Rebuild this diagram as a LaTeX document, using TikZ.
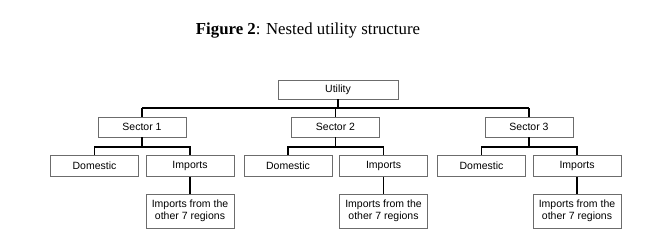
\documentclass[tikz,border=0pt]{standalone}
\usepackage{fontspec}
\setmainfont{Liberation Serif}
\newfontfamily\boxfont{Liberation Sans}
\usetikzlibrary{positioning,calc}
\tikzset{
  unit/.style  = {draw=gray!85!black, line width=0.8pt, fill=white, minimum width=88pt,
                  minimum height=20pt, inner sep=1pt, align=center,
                  font=\boxfont\fontsize{10.5}{12.5}\selectfont},
  wire/.style  = {line width=1.1pt, black},
}
\begin{document}
\begin{tikzpicture}[x=1pt,y=-1pt]
  \useasboundingbox (0,0) rectangle (650,251);
  \node[anchor=base,font=\fontsize{16.8}{20}\selectfont] (title) at (308,35)
    {\textbf{Figure 2}: Nested utility structure};
  \node[unit,minimum width=120pt,minimum height=19pt] (utility) at (338,89.5) {Utility};
  \coordinate (top) at (338,108);
  \foreach \i/\x in {1/142,2/335.5,3/529}{
    \node[unit] (s\i) at (\x,127) {Sector \i};
    \node[unit,minimum height=21pt] (d\i) at (\x-47.5,166) {Domestic};
    \node[unit,minimum height=21pt] (m\i) at (\x+48,166) {Imports};
    \node[unit,minimum height=34pt] (r\i) at (\x+48,211) {Imports from the\\other 7 regions};
    \coordinate (k\i) at (\x,147);
    \draw[wire] (s\i.north) -- (s\i.north |- top);
    \draw[wire] (s\i.south) -- (k\i);
    \draw[wire] (d\i.north) |- (k\i) -| (m\i.north);
    \draw[wire] (m\i.south) -- (r\i.north);}
  \draw[wire] (utility.south) -- (top);
  \draw[wire] (s1.north |- top) -- (s3.north |- top);
\end{tikzpicture}
\end{document}
